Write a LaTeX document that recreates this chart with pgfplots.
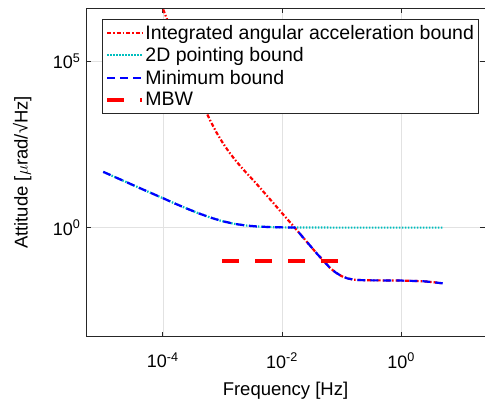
\documentclass[border=0pt]{standalone}
\usepackage{pgfplots}
\pgfplotsset{compat=1.18}
\usepackage{fontspec}
\setmainfont{Liberation Sans}
\usetikzlibrary{calc}
\definecolor{mcyan}{RGB}{0,191,191}
\definecolor{axgray}{RGB}{38,38,38}
\definecolor{gridgray}{RGB}{226,226,226}

\begin{document}
\begin{tikzpicture}
\begin{loglogaxis}[
  scale only axis, width=399pt, height=328pt,
  xmin=5.13e-6, xmax=25.7, ymin=5.25e-4, ymax=3.98e6,
  xtick={1e-4,1e-2,1},
  xticklabels={10\textsuperscript{-4},10\textsuperscript{-2},10\textsuperscript{0}},
  ytick={1,1e5},
  yticklabels={10\textsuperscript{0},10\textsuperscript{5}},
  xminorticks=false, yminorticks=false,
  grid=major, major grid style={gridgray, line width=0.6pt},
  axis line style={axgray, line width=0.8pt},
  tick style={axgray, line width=0.8pt}, major tick length=5pt,
  tick align=inside,
  ticklabel style={font=\fontsize{18}{20}\selectfont},
  xticklabel style={yshift=-13pt},
  yticklabel style={xshift=-2pt},
  xlabel={Frequency [Hz]},
  ylabel={Attitude [$\mu$rad/√Hz]},
  every axis x label/.style={at={(axis description cs:0.5,-0.166)},anchor=center,
    font=\fontsize{18.5}{22}\selectfont},
  every axis y label/.style={at={(axis description cs:-0.160,0.5)},anchor=center,rotate=90,
    font=\fontsize{18.5}{22}\selectfont},
  legend style={at={(axis description cs:0.039,0.968)}, anchor=north west,
    draw=axgray, fill=white,
    font=\fontsize{19.5}{22}\selectfont, nodes={inner sep=1.2pt}, row sep=4.5pt,
    inner xsep=3pt, inner ysep=4.5pt},
  legend cell align=left,
  legend image code/.code={\draw[#1] (0pt,0pt) -- (35pt,0pt);},
]
% integrated angular acceleration bound
\addplot[red, line width=2.2pt, dash pattern=on 4pt off 2pt on 1.5pt off 2pt] coordinates {
  (8.913e-5,6.92e6) (1e-4,3.98e6) (1.259e-4,1.380e6) (1.585e-4,4.90e5)
  (1.995e-4,1.778e5) (2.512e-4,6.61e4) (3.162e-4,2.512e4) (3.981e-4,9.77e3)
  (5.012e-4,3.89e3) (6.31e-4,1.622e3) (7.943e-4,741) (1e-3,372)
  (1.259e-3,202) (1.585e-3,117.5) (1.995e-3,71.6) (2.512e-3,45.2)
  (3.162e-3,29.0) (3.981e-3,18.41) (5.012e-3,11.48) (6.31e-3,7.16)
  (7.943e-3,4.47) (1e-2,2.754) (1.259e-2,1.718) (1.585e-2,1.072)
  (1.995e-2,0.661) (2.512e-2,0.407) (3.162e-2,0.251) (3.981e-2,0.155)
  (5.012e-2,0.100) (6.31e-2,0.0631) (7.943e-2,0.0447) (0.1,0.0347)
  (0.1259,0.0295) (0.1585,0.0272) (0.1995,0.0263) (0.3162,0.0258) (0.5012,0.0257)
  (1,0.0254) (1.585,0.0248) (2.512,0.0240) (3.548,0.0226) (5.012,0.0209)};
\addlegendentry{Integrated angular acceleration bound}
% 2D pointing bound
\addplot[mcyan, line width=2.2pt, dash pattern=on 1.5pt off 1.5pt] coordinates {
  (1e-5,47.9) (1.585e-5,33.1) (2.512e-5,23.0) (3.981e-5,15.9) (6.31e-5,11.07)
  (1e-4,7.74) (1.585e-4,5.34) (2.512e-4,3.77) (3.981e-4,2.70) (6.31e-4,2.005)
  (1e-3,1.563) (1.585e-3,1.30) (2.512e-3,1.153) (3.981e-3,1.076) (6.31e-3,1.037)
  (1e-2,1.018) (1.585e-2,1.0087) (2.512e-2,1.0042) (3.981e-2,1.002) (0.1,1.0)
  (1,1.0) (5.012,1.0)};
\addlegendentry{2D pointing bound}
% minimum bound
\addplot[blue, line width=2.2pt, dash pattern=on 8pt off 5pt] coordinates {
  (1e-5,47.9) (1.585e-5,33.1) (2.512e-5,23.0) (3.981e-5,15.9) (6.31e-5,11.07)
  (1e-4,7.74) (1.585e-4,5.34) (2.512e-4,3.77) (3.981e-4,2.70) (6.31e-4,2.005)
  (1e-3,1.563) (1.585e-3,1.30) (2.512e-3,1.153) (3.981e-3,1.076) (6.31e-3,1.037)
  (1e-2,1.018) (1.259e-2,1.013) (1.63e-2,1.009)
  (1.995e-2,0.661) (2.512e-2,0.407) (3.162e-2,0.251) (3.981e-2,0.155)
  (5.012e-2,0.100) (6.31e-2,0.0631) (7.943e-2,0.0447) (0.1,0.0347)
  (0.1259,0.0295) (0.1585,0.0272) (0.1995,0.0263) (0.3162,0.0258) (0.5012,0.0257)
  (1,0.0254) (1.585,0.0248) (2.512,0.0240) (3.548,0.0226) (5.012,0.0209)};
\addlegendentry{Minimum bound}
% MBW
\addplot[red, line width=4.5pt, dash pattern=on 17pt off 16pt] coordinates {
  (1e-3,0.1) (0.1,0.1)};
\addlegendentry{MBW}
\end{loglogaxis}
\pgfresetboundingbox
\path ($(current axis.south west)+(-86pt,-66.3pt)$) rectangle ($(current axis.north east)+(0pt,8.5pt)$);
\end{tikzpicture}
\end{document}
